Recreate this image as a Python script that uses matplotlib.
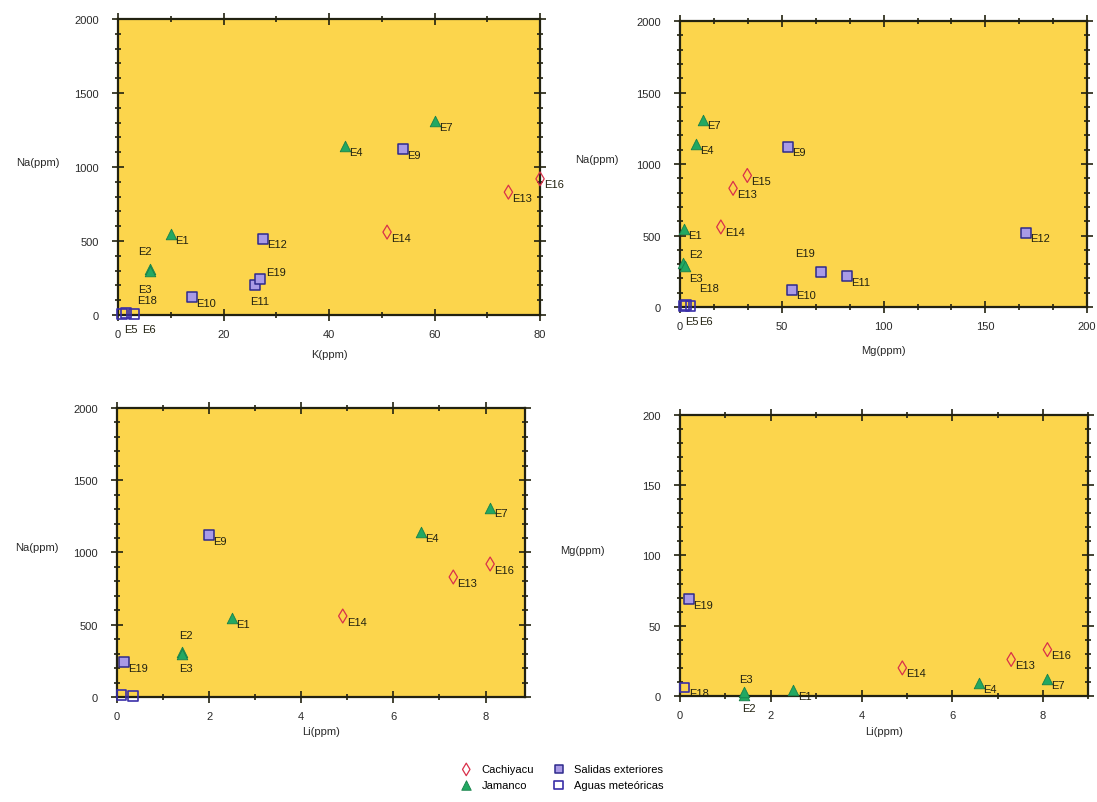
import matplotlib
matplotlib.use("Agg")
import matplotlib.pyplot as plt
from matplotlib.ticker import MultipleLocator

plt.rcParams['font.family'] = ['Liberation Sans Narrow', 'Liberation Sans', 'DejaVu Sans']

# =========================
# Data
# =========================

# Panel A: Na vs K
a_cach_lab = ["E13", "E14", "E16"]
a_cach_x = [74, 51, 80]
a_cach_y = [830, 560, 920]
a_jam_lab = ["E1", "E2", "E3", "E4", "E7"]
a_jam_x = [10, 6, 6, 43, 60]
a_jam_y = [545, 310, 295, 1140, 1310]
a_sal_lab = ["E9", "E10", "E11", "E12", "E19"]
a_sal_x = [54, 14, 26, 27.5, 27]
a_sal_y = [1120, 120, 205, 515, 245]
a_met_lab = ["E5", "E6", "E18"]
a_met_x = [0.8, 3, 1.5]
a_met_y = [8, 8, 15]

# Panel B: Na vs Mg
b_cach_lab = ["E13", "E14", "E15"]
b_cach_x = [26, 20, 33]
b_cach_y = [830, 560, 920]
b_jam_lab = ["E1", "E2", "E3", "E4", "E7"]
b_jam_x = [2, 1.5, 2.5, 8, 11]
b_jam_y = [545, 310, 290, 1140, 1310]
b_sal_lab = ["E9", "E10", "E11", "E12", "E19"]
b_sal_x = [53, 55, 82, 170, 69]
b_sal_y = [1120, 120, 215, 520, 245]
b_met_lab = ["E5", "E6", "E18"]
b_met_x = [2, 5, 3]
b_met_y = [8, 8, 15]

# Panel C: Na vs Li
c_cach_lab = ["E13", "E14", "E16"]
c_cach_x = [7.3, 4.9, 8.1]
c_cach_y = [830, 560, 920]
c_jam_lab = ["E1", "E2", "E3", "E4", "E7"]
c_jam_x = [2.5, 1.4, 1.4, 6.6, 8.1]
c_jam_y = [545, 310, 295, 1140, 1310]
c_sal_lab = ["E9", "E19"]
c_sal_x = [2.0, 0.15]
c_sal_y = [1120, 240]
c_met_lab = ["", ""]
c_met_x = [0.1, 0.35]
c_met_y = [12, 8]

# Panel D: Mg vs Li
d_cach_lab = ["E13", "E14", "E16"]
d_cach_x = [7.3, 4.9, 8.1]
d_cach_y = [26, 20, 33]
d_jam_lab = ["E1", "E2", "E3", "E4", "E7"]
d_jam_x = [2.5, 1.4, 1.4, 6.6, 8.1]
d_jam_y = [4, 1, 3, 9, 12]
d_sal_lab = ["E19"]
d_sal_x = [0.2]
d_sal_y = [69]
d_met_lab = ["E18"]
d_met_x = [0.1]
d_met_y = [6]

legend_names = ["Cachiyacu", "Jamanco", "Salidas exteriores", "Aguas meteóricas"]

# =========================
# Styles
# =========================

BG = "#fcd54c"
INK = "#222211"
styles = [
    dict(marker="d", s=50, facecolor="none", edgecolor="#d9304a", linewidths=0.9),
    dict(marker="^", s=58, facecolor="#22a862", edgecolor="#17804a", linewidths=0.6),
    dict(marker="s", s=48, facecolor="#a99ae6", edgecolor="#2e2a8c", linewidths=1.1),
    dict(marker="s", s=48, facecolor="none", edgecolor="#3a2fa8", linewidths=1.2),
]

# label offsets (points) for labels that are not placed right/below the marker
offsets_a = {"E2": (-8, 13), "E3": (-8, -13), "E5": (1, -11), "E6": (6, -11),
             "E18": (8, 9), "E11": (-4, -12), "E19": (4, 5)}
offsets_b = {"E2": (4, 6), "E3": (3, -9), "E5": (1, -11), "E6": (6, -11),
             "E18": (9, 12), "E19": (-18, 14)}
offsets_c = {"E2": (-2, 12), "E3": (-2, -10)}
offsets_d = {"E3": (-3, 9), "E2": (-1, -10)}


def draw_panel(ax, groups, offsets, xlim, ylim, xmaj, xmin, ymaj, ymin,
               xlabel, ylabel, ylab_x, xlab_y):
    ax.set_facecolor(BG)
    handles = []
    for (lab, xs, ys), st in zip(groups, styles):
        h = ax.scatter(xs, ys, zorder=3, clip_on=False, **st)
        handles.append(h)
        for t, x, y in zip(lab, xs, ys):
            if not t:
                continue
            dx, dy = offsets.get(t, (3, -4))
            ax.annotate(t, (x, y), xytext=(dx, dy), textcoords="offset points",
                        ha="left", va="center", fontsize=8, color=INK,
                        annotation_clip=False, zorder=4)
    ax.set_xlim(*xlim)
    ax.set_ylim(*ylim)
    ax.xaxis.set_major_locator(MultipleLocator(xmaj))
    ax.xaxis.set_minor_locator(MultipleLocator(xmin))
    ax.yaxis.set_major_locator(MultipleLocator(ymaj))
    ax.yaxis.set_minor_locator(MultipleLocator(ymin))
    ax.tick_params(which="both", direction="inout", top=True, right=True,
                   color=INK, width=1.2, labelsize=8, labelcolor="#2a2a2a")
    ax.tick_params(which="major", length=8)
    ax.tick_params(which="minor", length=5)
    ax.tick_params(axis="y", pad=10)
    ax.tick_params(axis="x", pad=6)
    for sp in ax.spines.values():
        sp.set_color(INK)
        sp.set_linewidth(1.6)
    ax.set_xlabel(xlabel, fontsize=8, color="#2a2a2a")
    ax.set_ylabel(ylabel, fontsize=8, color="#2a2a2a", rotation=0)
    ax.yaxis.set_label_coords(ylab_x, 0.5)
    ax.xaxis.set_label_coords(0.5, xlab_y)
    return handles


fig = plt.figure(figsize=(10.97, 8.03), dpi=100)

ax_a = fig.add_axes([0.1076, 0.6065, 0.3847, 0.3686])
ax_b = fig.add_axes([0.620, 0.6164, 0.371, 0.3562])
ax_c = fig.add_axes([0.1067, 0.1308, 0.372, 0.360])
ax_d = fig.add_axes([0.620, 0.132, 0.372, 0.350])

handles = draw_panel(
    ax_a,
    [(a_cach_lab, a_cach_x, a_cach_y), (a_jam_lab, a_jam_x, a_jam_y),
     (a_sal_lab, a_sal_x, a_sal_y), (a_met_lab, a_met_x, a_met_y)],
    offsets_a, (0, 80), (0, 2000), 20, 10, 500, 100,
    "K(ppm)", "Na(ppm)", -0.19, -0.115)

draw_panel(
    ax_b,
    [(b_cach_lab, b_cach_x, b_cach_y), (b_jam_lab, b_jam_x, b_jam_y),
     (b_sal_lab, b_sal_x, b_sal_y), (b_met_lab, b_met_x, b_met_y)],
    offsets_b, (0, 200), (0, 2000), 50, 50 / 3, 500, 100,
    "Mg(ppm)", "Na(ppm)", -0.204, -0.133)

draw_panel(
    ax_c,
    [(c_cach_lab, c_cach_x, c_cach_y), (c_jam_lab, c_jam_x, c_jam_y),
     (c_sal_lab, c_sal_x, c_sal_y), (c_met_lab, c_met_x, c_met_y)],
    offsets_c, (0, 8.86), (0, 2000), 2, 1, 500, 100,
    "Li(ppm)", "Na(ppm)", -0.196, -0.10)

draw_panel(
    ax_d,
    [(d_cach_lab, d_cach_x, d_cach_y), (d_jam_lab, d_jam_x, d_jam_y),
     (d_sal_lab, d_sal_x, d_sal_y), (d_met_lab, d_met_x, d_met_y)],
    offsets_d, (0, 9), (0, 200), 2, 1, 50, 10,
    "Li(ppm)", "Mg(ppm)", -0.24, -0.107)

fig.legend(handles, legend_names, loc="center", bbox_to_anchor=(0.51, 0.031),
           ncol=2, frameon=False, fontsize=8, handletextpad=0.4,
           columnspacing=1.2, labelspacing=0.5, markerscale=0.9)

fig.savefig("out.png", dpi=100)
